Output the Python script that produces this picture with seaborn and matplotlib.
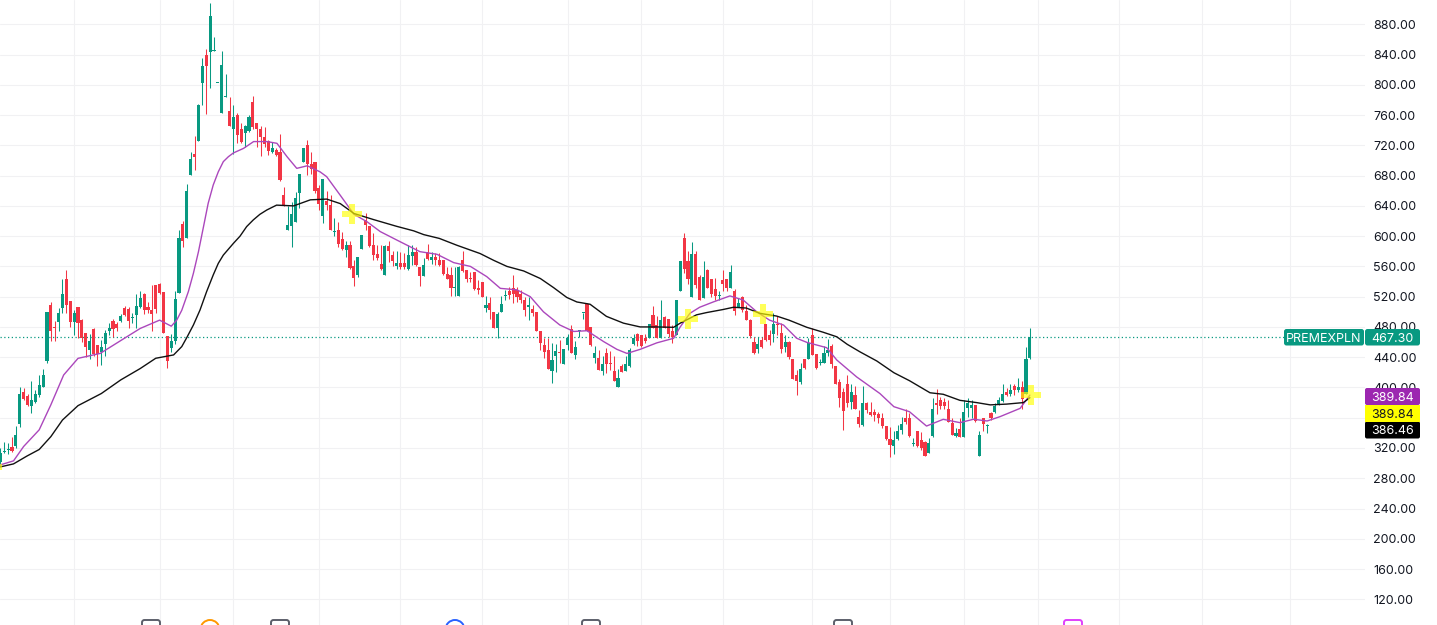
import matplotlib
matplotlib.use("Agg")
import matplotlib.pyplot as plt
from matplotlib.patches import FancyBboxPatch, Rectangle, Circle
import numpy as np
import pandas as pd
import seaborn as sns

# ---------- data (prices) ----------
highs = [320,328,327,334,349,400,399,392,408,396,
 416,424,500,513,488,505,544,555,514,502,
 506,490,472,471,479,456,463,476,485,491,
 487,497,508,506,499,524,527,525,513,535,
 535,538,526,468,471,528,608,620,669,711,
 733,775,835,847,908,863,803,845,814,784,
 773,763,749,747,760,785,750,745,744,727,
 725,716,735,665,640,645,659,682,716,727,
 711,698,668,675,660,654,624,619,606,594,
 593,568,573,602,631,613,604,588,588,588,
 594,580,580,579,578,588,588,586,559,571,
 590,579,578,578,568,559,559,559,560,580,
 555,552,553,542,539,521,520,500,500,521,
 529,533,549,533,529,520,520,509,500,475,
 466,465,459,457,463,451,471,483,462,476,
 499,511,480,455,449,441,452,448,441,424,
 431,442,452,471,472,470,471,484,508,494,
 516,494,491,483,516,567,604,581,592,581,
 549,567,556,544,545,528,555,544,562,530,
 518,521,509,491,467,467,467,484,476,499,
 494,485,469,462,437,423,432,438,466,478,
 444,438,455,464,457,428,411,399,416,405,
 402,370,402,381,381,371,368,366,349,348,
 342,350,361,371,366,333,343,341,329,333,
 386,398,388,386,383,359,346,359,383,386,
 383,377,342,360,352,367,379,388,405,399,
 405,405,413,408,453,478]
body_top = [313,316,318,321,337,392,394,389,383,391,
 403,416,500,509,480,499,524,544,514,499,
 506,489,472,462,477,456,453,472,478,488,
 484,494,505,504,493,508,518,524,506,503,
 535,537,526,468,461,517,598,616,660,702,
 708,773,825,839,891,846,803,826,785,765,
 757,760,742,746,757,777,749,742,731,726,
 716,714,711,654,615,629,650,682,716,720,
 695,698,664,675,646,641,606,608,596,588,
 588,560,572,602,621,613,588,576,563,587,
 587,575,564,565,565,575,579,579,559,562,
 579,572,572,568,568,550,549,533,559,568,
 555,544,553,532,539,509,512,500,497,510,
 522,527,532,529,524,516,509,504,500,475,
 456,450,436,448,446,451,466,477,454,475,
 499,510,480,445,439,431,445,432,422,413,
 428,431,450,466,471,469,466,484,496,483,
 489,493,490,474,516,567,598,567,576,576,
 546,546,555,543,530,522,542,543,552,528,
 512,519,501,489,460,457,463,484,469,484,
 484,472,460,460,437,416,424,437,459,469,
 444,433,446,450,455,428,407,394,405,394,
 390,361,380,380,368,367,365,360,349,332,
 331,342,352,359,359,326,342,331,328,326,
 371,380,383,381,372,353,340,345,368,380,
 377,377,337,359,350,366,375,384,391,394,
 397,402,401,401,438,467.3]
body_bot = [302,315,317,316,322,352,385,377,375,381,
 390,401,435,475,479,487,505,509,487,487,
 485,466,453,449,444,444,447,457,474,477,
 478,488,496,488,492,496,507,502,502,497,
 504,525,472,435,452,462,525,593,597,681,
 705,726,803,825,843,845,802,763,784,745,
 741,734,724,736,739,744,741,731,722,712,
 711,707,674,640,608,613,619,657,698,696,
 689,660,642,627,641,608,605,590,583,582,
 558,545,549,583,615,587,575,571,557,549,
 580,567,561,559,559,557,574,562,547,547,
 570,569,568,562,550,544,532,532,521,554,
 543,543,530,529,520,505,503,478,479,500,
 521,522,524,519,515,502,507,499,474,459,
 447,425,422,442,445,431,456,445,443,474,
 498,474,456,439,423,422,431,431,409,401,
 421,422,428,457,461,455,461,466,479,466,
 466,479,471,467,469,527,557,543,520,535,
 515,518,532,524,521,521,537,532,532,501,
 507,502,489,468,445,451,453,463,463,471,
 483,451,453,440,411,408,407,426,437,443,
 426,432,433,445,431,405,386,369,379,381,
 372,352,350,370,364,364,359,349,332,324,
 322,332,344,354,336,325,322,320,309,314,
 336,377,376,376,355,337,336,334,335,373,
 373,356,309,352,349,360,367,378,382,390,
 391,396,396,385,391,439]
lows = [298,313,312,315,320,348,383,375,366,379,
 388,400,433,462,462,474,499,499,480,470,
 466,460,440,438,442,428,430,441,469,467,
 475,486,494,478,485,478,505,497,498,474,
 498,524,472,426,447,458,525,585,597,681,
 687,726,773,761,796,845,802,763,784,745,
 709,723,723,718,738,742,718,706,718,707,
 710,706,673,640,608,585,619,637,698,681,
 682,657,634,617,634,608,600,586,582,573,
 557,534,546,583,608,586,569,568,555,549,
 566,561,557,557,557,555,562,561,534,547,
 568,563,562,560,549,543,521,521,521,553,
 539,539,529,524,519,500,491,478,466,500,
 515,517,512,513,511,494,489,494,474,450,
 439,424,406,420,432,431,450,445,437,467,
 491,474,455,432,423,417,419,423,409,400,
 420,422,427,456,455,454,459,466,478,466,
 466,478,467,459,469,527,551,537,520,531,
 515,518,531,520,516,515,527,527,531,496,
 506,500,489,465,444,445,452,462,456,460,
 469,446,447,438,411,390,405,425,437,443,
 425,430,433,441,426,405,374,344,374,372,
 371,348,349,366,362,356,353,346,331,308,
 312,331,339,352,334,322,321,317,309,314,
 335,365,371,372,355,337,335,334,335,361,
 359,355,309,343,340,357,366,377,381,389,
 389,390,394,371,391,438]
direction = ("GGGRGGRRGG" "GGGRRGGRRG" "RRRGRRGGGR" "RGRRGGGRRR" "RRRRGGGRGG"
             "RGGRGGGGGR" "GRRGGRRRRR" "GRRRGGGGGR" "RRRGRRGRRG" "RRGGRRRRRG"
             "RRGRRGGRRG" "RGRRRRRGGR" "RRRRRGRRGG" "GRRRRRGRRR" "RRGGRGGRGG"
             "GRRGRGRRRG" "RGGGRRRGRR" "GRRRGGRRGR" "RGRRRGRRGR" "GRRRRGRRRG"
             "RRGRRRGRGR" "RGGGRRRRRG" "RRGRRRRRRR" "GGGRRGRRRG" "GRRRRRGRGG"
             "GRGRGRGGGR" "GRGRGG")

slow_idx = [0,3.4,6.9,10,13,16,20,26,31,36,40,44.6,46.7,48,49.7,51.4,53.1,54.8,56.1,57.4,60,61.7,63.4,65.1,66.8,68.6,71.1,75.5,79.8,84,87.5,
            91,96,102,106.4,109,113,117.5,123.5,127,130.4,134.7,139,142.4,145.8,148.4,151.8,156,160.4,164.7,169,173.3,
            175,179.2,181.8,186,188.7,192,195.5,199.8,203,207.6,211.8,215.3,218,221.3,225.6,230,234,239.3,242.7,247,251.3,254.8,259,263.3,265]
slow_val = [295,299,309.5,318,335,357,376,392,410,425,438.6,443,454,466,482.6,502.4,526.7,548.7,564,575,590.5,600,612.6,621.4,628.8,634.6,641,640,648,649,643,
            630,622,613,607,602,597,588,577,568,560,554,544,532,519,513,510,494,485,480,480,479.5,
            485,496,499,503,506,505,498,494.4,489,479.5,473,467,457,447,435,419.5,409,393,391,383,380,377,378,380,386.46]
fast_idx = [0,3.4,6,10,13,16.3,20,25.7,31,36,41,44,45.4,46.7,48.4,49.7,51,52.3,53.5,54.8,56.1,57.4,58.7,60,62.6,65.2,68.6,71.2,73.8,76.3,79,82.3,84,87.5,
            91,94.4,97.8,102,104.7,108,112.4,116.7,121,125.2,128.7,133,136.4,139.8,144,147.6,151,155.3,158.7,161.3,164.7,169,173.3,
            175,177.5,180,183.5,187.8,191.2,194.7,198,201.6,205,207.6,212.7,215.3,220.4,226.4,230,234,238.4,242.7,247,250.5,254,257.3,262.5,265]
fast_val = [297.7,303,322,344,377,416.5,438.5,445,462,478,489,481,489,502,526.7,551,579.5,612.6,643.4,667.6,685,698.5,705,710,716,725,725,722.7,705,689.6,693,685,678.6,654,
            629,619,606,595,588,579.5,576,565,560,546.5,531,529,520,500,482.6,474,475,460.6,450.4,445,450.4,459,465,
            480,498,506,513,521,515.6,500,489,482.5,465,459.6,452.6,436.3,414,392,374.6,368,349,357.9,353.5,358,355.7,361.4,372.4,389.84]
cross_idx = [-2.2,90.5,177,196.3,265.3]
cross_val = [295,629,490.5,497,389.84]

price_ticks = list(range(120, 881, 40))
hidden_ticks = [360]            # covered by the stacked price tags in the chart
time_grid = [19,41,60,82,103,124,146,165,186,209,229,248,267,288,309.2,332]
symbol = "PREMEXPLN"
last_price = 467.30
tag_values = ["389.84", "389.84", "386.46"]

GREEN, RED = "#089981", "#f23645"
W, H = 1437, 625

# ---------- figure ----------
sns.set_theme(style="white")
plt.rcParams["font.family"] = ["Inter", "DejaVu Sans"]
fig = plt.figure(figsize=(W/100, H/100), dpi=100, facecolor="white")
ax = fig.add_axes([0, 0, 1365/W, 1])

df = pd.DataFrame(dict(i=np.arange(len(highs)), hi=highs, lo=lows, top=body_top, bot=body_bot,
                       col=[GREEN if d == "G" else RED for d in direction]))
df["h"] = (df.top - df.bot).clip(lower=1.4)

wicks = ax.vlines(df.i, df.lo, df.hi, colors=df.col, linewidth=0.75, zorder=3)
wicks.set_snap(True)
ax.bar(df.i, df.h, bottom=df.bot, width=0.8, color=df.col, linewidth=0, zorder=4)

sns.lineplot(x=fast_idx, y=fast_val, ax=ax, color="#ab47bc", linewidth=1.0, estimator=None, sort=False, zorder=5)
sns.lineplot(x=slow_idx, y=slow_val, ax=ax, color="#111111", linewidth=1.0, estimator=None, sort=False, zorder=5)
sns.scatterplot(x=cross_idx, y=cross_val, ax=ax, marker="P", s=190, color="#ffff00", alpha=0.65,
                linewidth=0, zorder=6, clip_on=True)

ax.axhline(last_price, color=GREEN, linewidth=0.9, linestyle=(0, (1, 2)), zorder=2)

ax.set_xlim((0 - 0.33)/3.885, (1365 - 0.33)/3.885)
ax.set_ylim(880 - (625 - 24.3)/0.7566, 880 + 24.3/0.7566)
ax.set_xticks(time_grid)
ax.set_yticks(price_ticks)
ax.set_yticklabels(["" if p in hidden_ticks else f"{p:.2f}" for p in price_ticks])
ax.yaxis.tick_right()
ax.tick_params(axis="y", length=0, pad=5.8, labelsize=9.0, labelcolor="#131722")
ax.tick_params(axis="x", length=0, labelbottom=False)
ax.grid(True, color="#f1f1f3", linewidth=0.75, zorder=0)
ax.set_axisbelow(True)
for s in ax.spines.values():
    s.set_visible(False)

# ---------- overlay in pixel space: price tags and the cut-off toolbar icons ----------
ov = fig.add_axes([0, 0, 1, 1], facecolor="none")
ov.set_xlim(0, W); ov.set_ylim(H, 0); ov.axis("off")

def tag(x0, x1, y0, y1, color, text, tcolor, radius=0):
    if radius:
        ov.add_patch(FancyBboxPatch((x0+radius, y0+radius), x1-x0-2*radius, y1-y0-2*radius,
                                    boxstyle=f"round,pad={radius},rounding_size={radius}", fc=color, ec="none"))
    else:
        ov.add_patch(Rectangle((x0, y0), x1-x0, y1-y0, fc=color, ec="none"))
    ov.text((x0+x1)/2, (y0+y1)/2, text, color=tcolor, ha="center", va="center_baseline", fontsize=9.0)

tag(1284, 1364, 329, 345.5, GREEN, symbol, "white", 2.5)
tag(1365, 1420, 329, 345.5, GREEN, f"{last_price:.2f}", "white", 2.5)
tag(1365, 1420, 388, 405, "#9c27b0", tag_values[0], "white", 2)
tag(1365, 1420, 421.5, 438.5, "#000000", tag_values[2], "white", 2)
tag(1365, 1420, 404.5, 421.5, "#ffff00", tag_values[1], "#131722")

for cx, col in [(151, "#5d606b"), (280, "#5d606b"), (591, "#5d606b"), (843, "#5d606b"), (1073, "#e040fb")]:
    ov.add_patch(FancyBboxPatch((cx-7, 622), 14, 14, boxstyle="round,pad=2,rounding_size=2.5",
                                fc="white", ec=col, linewidth=1.4))
for cx, col in [(210, "#ff9800"), (455, "#2962ff")]:
    ov.add_patch(Circle((cx, 629.5), 9.5, fc="white", ec=col, linewidth=1.4))

fig.savefig("out.png", dpi=100, facecolor="white")
